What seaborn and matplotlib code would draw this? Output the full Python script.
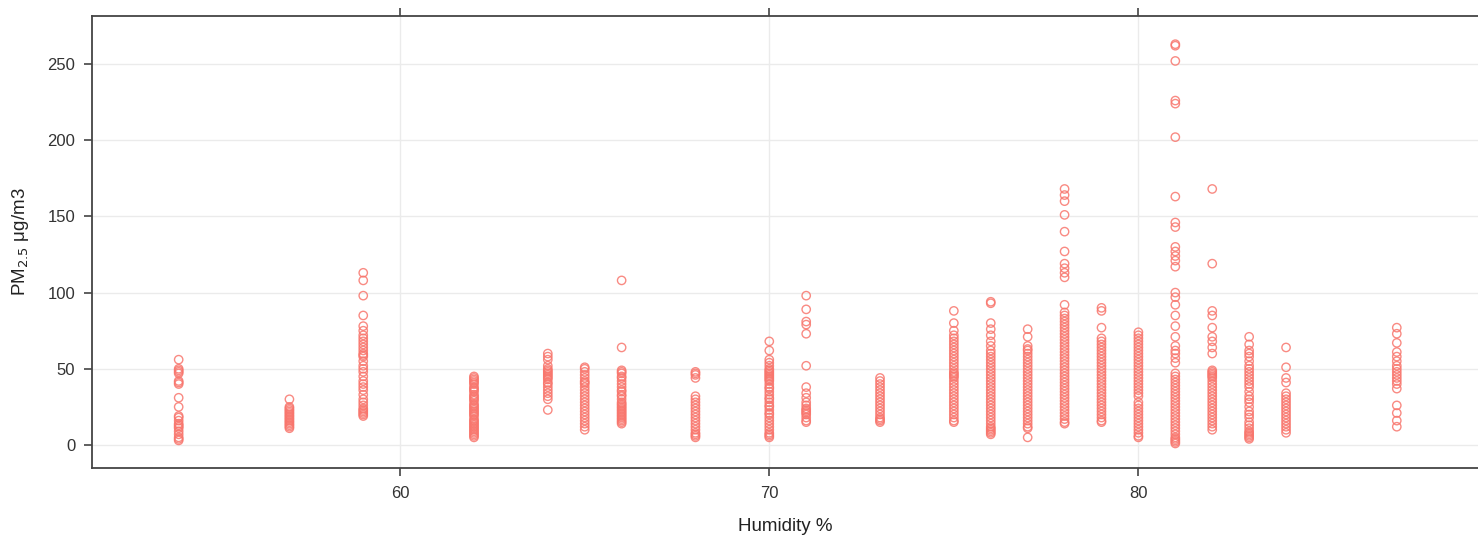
import seaborn as sns
import pandas as pd
import matplotlib.pyplot as plt

# PM2.5 readings grouped by humidity
pm_54 = [56, 50, 49, 48, 47, 42, 41, 40, 31, 25, 19, 18, 16, 14, 13, 12, 11, 9, 7, 5, 4, 3]
pm_57 = [30, 25, 24, 23, 22, 21, 20, 19, 18, 17, 16, 15, 14, 13, 12, 11]
pm_59 = [113, 108, 98, 85, 78, 75, 72, 70, 68, 66, 64, 62, 60, 59, 58, 55, 52, 50, 48, 45,
         42, 40, 38, 36, 33, 30, 28, 26, 24, 23, 22, 21, 20, 19]
pm_62 = [45, 44, 43, 42, 41, 40, 38, 37, 36, 35, 33, 32, 31, 30, 29, 27, 26, 25, 24, 23,
         22, 21, 20, 19, 17, 16, 15, 14, 13, 12, 11, 10, 9, 8, 7, 6, 5]
pm_64 = [60, 58, 56, 52, 50, 49, 48, 47, 46, 45, 44, 43, 41, 40, 38, 36, 34, 32, 30, 23]
pm_65 = [51, 50, 48, 46, 44, 42, 41, 40, 38, 36, 34, 32, 30, 28, 26, 24, 22, 20, 18, 16, 14, 12, 10]
pm_66 = [108, 64, 49, 48, 47, 45, 44, 42, 40, 38, 36, 35, 33, 32, 30, 28, 27, 26, 25, 24,
         23, 22, 21, 20, 19, 18, 17, 16, 15, 14]
pm_68 = [48, 47, 46, 44, 32, 30, 28, 26, 24, 22, 20, 18, 16, 14, 12, 10, 8, 7, 6, 5]
pm_70 = [68, 62, 56, 54, 52, 50, 49, 48, 47, 46, 45, 44, 43, 42, 40, 38, 37, 35, 33, 31,
         30, 28, 26, 25, 23, 21, 20, 18, 16, 14, 12, 10, 8, 7, 6, 5]
pm_71 = [98, 89, 81, 79, 73, 52, 38, 34, 31, 28, 26, 24, 23, 22, 21, 20, 18, 16, 15]
pm_73 = [44, 42, 40, 38, 36, 34, 32, 30, 28, 26, 24, 22, 20, 18, 17, 16, 15]
pm_75 = [88, 80, 75, 72, 70, 68, 66, 64, 62, 60, 58, 56, 54, 52, 50, 48, 47, 46, 45, 44,
         42, 40, 38, 36, 34, 32, 30, 28, 26, 24, 22, 20, 18, 16, 15]
pm_76 = [94, 93, 80, 76, 72, 68, 65, 62, 60, 58, 56, 54, 52, 50, 48, 46, 44, 42, 40, 38,
         36, 34, 32, 30, 28, 26, 24, 22, 20, 18, 16, 14, 12, 11, 10, 9, 8, 7]
pm_77 = [76, 71, 65, 63, 62, 60, 58, 56, 54, 52, 50, 48, 46, 44, 42, 40, 38, 36, 34, 32,
         30, 28, 26, 24, 22, 20, 18, 16, 14, 12, 11, 5]
pm_78 = [168, 164, 160, 151, 140, 127, 119, 116, 113, 110, 92, 87, 85, 83, 81, 79, 77, 75,
         73, 71, 69, 67, 65, 63, 61, 59, 57, 55, 53, 51, 49, 47, 45, 43, 41, 39, 37, 35,
         33, 31, 29, 27, 25, 23, 21, 19, 17, 15, 14]
pm_79 = [90, 88, 77, 70, 68, 66, 64, 62, 60, 58, 56, 54, 52, 50, 48, 46, 44, 42, 40, 38,
         36, 34, 32, 30, 28, 26, 24, 22, 20, 18, 16, 15]
pm_80 = [74, 72, 70, 68, 66, 64, 62, 60, 58, 56, 54, 52, 50, 48, 46, 44, 42, 40, 38, 36,
         34, 32, 28, 26, 24, 22, 20, 18, 16, 14, 12, 10, 8, 6, 5]
pm_81 = [263, 262, 252, 226, 224, 202, 163, 146, 143, 130, 127, 124, 121, 117, 100, 97, 92,
         85, 78, 71, 65, 62, 60, 57, 54, 47, 45, 43, 41, 39, 37, 35, 33, 31, 29, 27, 25,
         23, 21, 19, 17, 15, 13, 11, 9, 7, 5, 4, 3, 2, 1]
pm_82 = [168, 119, 88, 85, 77, 71, 68, 64, 60, 49, 48, 47, 46, 45, 44, 42, 40, 38, 36, 34,
         32, 30, 28, 26, 24, 22, 20, 18, 16, 14, 12, 10]
pm_83 = [71, 66, 62, 60, 58, 55, 52, 50, 48, 46, 44, 42, 40, 38, 35, 32, 30, 28, 25, 22,
         20, 18, 15, 13, 11, 9, 8, 7, 6, 5, 4]
pm_84 = [64, 51, 44, 41, 34, 32, 30, 28, 26, 24, 22, 20, 18, 16, 14, 12, 10, 8]
pm_87 = [77, 73, 67, 61, 58, 55, 52, 50, 48, 46, 44, 42, 40, 37, 26, 21, 16, 12]

humidity_levels = [54, 57, 59, 62, 64, 65, 66, 68, 70, 71, 73, 75, 76, 77, 78, 79, 80, 81, 82, 83, 84, 87]
pm_groups = [pm_54, pm_57, pm_59, pm_62, pm_64, pm_65, pm_66, pm_68, pm_70, pm_71, pm_73,
             pm_75, pm_76, pm_77, pm_78, pm_79, pm_80, pm_81, pm_82, pm_83, pm_84, pm_87]

rows = []
for h, vals in zip(humidity_levels, pm_groups):
    for v in vals:
        rows.append({'Humidity': h, 'PM25': v})
df = pd.DataFrame(rows)

sns.set_style('white')
plt.rcParams['font.family'] = ['Liberation Sans', 'DejaVu Sans']

fig = plt.figure(figsize=(14.78, 5.42), dpi=100)
ax = fig.add_axes([0.0622, 0.1365, 0.9378, 0.834])

sns.scatterplot(data=df, x='Humidity', y='PM25', ax=ax, marker='o', s=36,
                facecolor='none', edgecolor='#F8766D', linewidth=1.0, alpha=0.85)

ax.set_xlim(51.65, 89.2)
ax.set_ylim(-15.1, 281.5)
ax.set_xticks([60, 70, 80])
ax.set_yticks([0, 50, 100, 150, 200, 250])
ax.grid(True, color='#ebebeb', linewidth=1)
ax.set_axisbelow(True)

for side in ['left', 'top', 'bottom']:
    ax.spines[side].set_visible(True)
    ax.spines[side].set_color('#444444')
    ax.spines[side].set_linewidth(1.3)
ax.spines['right'].set_visible(False)

ax.tick_params(axis='x', which='both', top=True, bottom=True, labeltop=False,
               direction='out', length=6, width=1.2, color='#444444',
               labelsize=12, labelcolor='#333333', pad=7)
ax.tick_params(axis='y', left=True, direction='out', length=6, width=1.2,
               color='#444444', labelsize=12, labelcolor='#333333', pad=6)

ax.set_xlabel('Humidity %', fontsize=13.5, color='#222222', labelpad=12)
ax.set_ylabel('PM$_{2.5}$ μg/m3', fontsize=13.5, color='#222222', labelpad=12)

fig.savefig('out.png', dpi=100)
